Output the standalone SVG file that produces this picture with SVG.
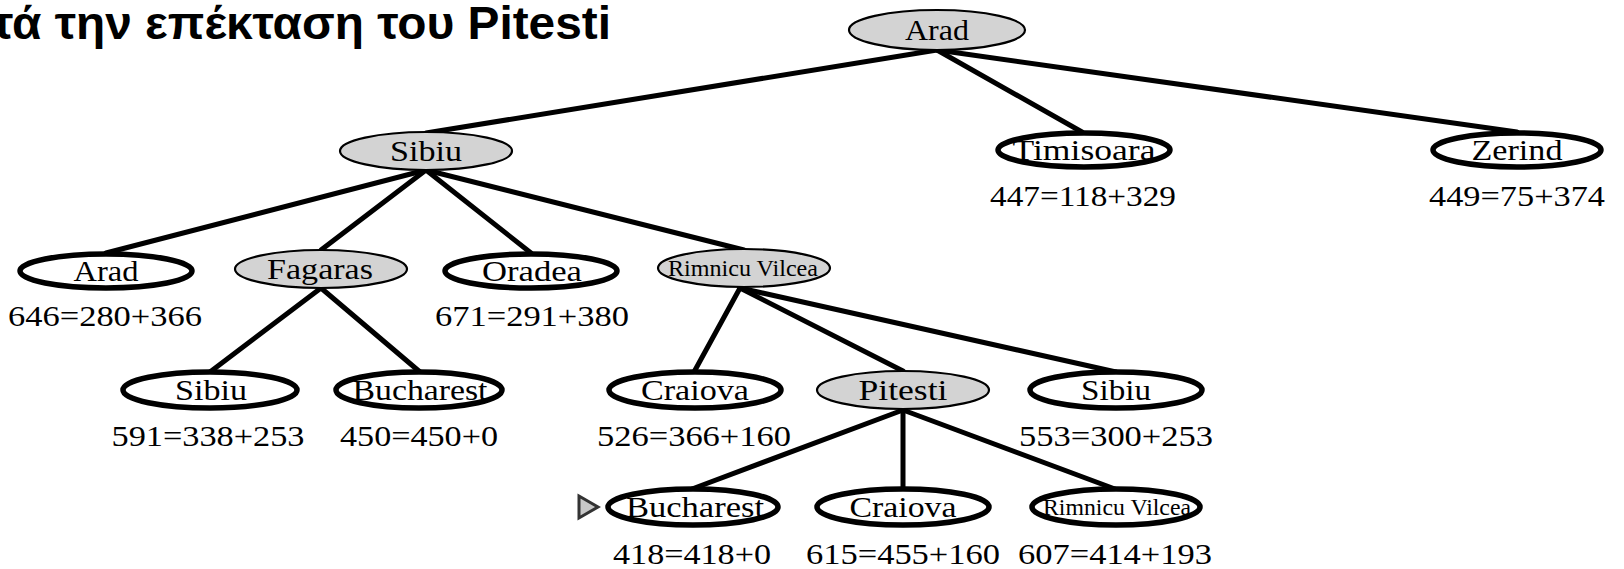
<svg xmlns="http://www.w3.org/2000/svg" width="1624" height="569" viewBox="0 0 1624 569">
<style>
.bg{fill:#ffffff}
.title{font-family:"Liberation Sans",Arial,sans-serif;font-weight:bold;font-size:47px;fill:#000}
.open{fill:#ffffff;stroke:#000;stroke-width:5.5}
.closed{fill:#d3d3d3;stroke:#000;stroke-width:2.2}
.nt{font-family:"Liberation Serif","Times New Roman",serif;font-size:30px;fill:#000;text-anchor:middle}
.small{font-size:23px}
.lb{font-family:"Liberation Serif","Times New Roman",serif;font-size:30px;fill:#000;text-anchor:middle}
.edge{stroke:#000;stroke-width:5;fill:none;stroke-linecap:round}
.mark{fill:#c8c8c8;stroke:#333;stroke-width:3;stroke-linejoin:miter}
</style>
<rect class="bg" x="0" y="0" width="1624" height="569"/>
<text class="title" x="611" y="39" text-anchor="end" textLength="619" lengthAdjust="spacingAndGlyphs">τά την επέκταση του Pitesti</text>
<g id="connectors">
<line class="edge" x1="937" y1="50" x2="426" y2="133"/>
<line class="edge" x1="937" y1="50" x2="1082" y2="132"/>
<line class="edge" x1="937" y1="50" x2="1517" y2="132"/>
<line class="edge" x1="426" y1="170" x2="106" y2="253"/>
<line class="edge" x1="426" y1="170" x2="321" y2="250"/>
<line class="edge" x1="426" y1="170" x2="531" y2="253"/>
<line class="edge" x1="426" y1="170" x2="744" y2="250"/>
<line class="edge" x1="321" y1="288" x2="210" y2="372"/>
<line class="edge" x1="321" y1="288" x2="420" y2="372"/>
<line class="edge" x1="740" y1="288" x2="694" y2="372"/>
<line class="edge" x1="740" y1="288" x2="903" y2="371"/>
<line class="edge" x1="740" y1="288" x2="1116" y2="372"/>
<line class="edge" x1="903" y1="410" x2="692" y2="489"/>
<line class="edge" x1="903" y1="410" x2="903" y2="489"/>
<line class="edge" x1="903" y1="410" x2="1115" y2="489"/>
</g>
<g id="n-arad-root"><ellipse class="closed" cx="937" cy="30" rx="88" ry="20"/><text class="nt" x="937" y="40" textLength="64" lengthAdjust="spacingAndGlyphs">Arad</text></g>
<g id="n-sibiu"><ellipse class="closed" cx="426" cy="151" rx="86" ry="19"/><text class="nt" x="426" y="161" textLength="72" lengthAdjust="spacingAndGlyphs">Sibiu</text></g>
<g id="n-timisoara"><ellipse class="open" cx="1084" cy="150" rx="86" ry="17"/><text class="nt" x="1084" y="160" textLength="143" lengthAdjust="spacingAndGlyphs">Timisoara</text><text class="lb" x="1083" y="206" textLength="186" lengthAdjust="spacingAndGlyphs">447=118+329</text></g>
<g id="n-zerind"><ellipse class="open" cx="1517" cy="150" rx="84" ry="17"/><text class="nt" x="1517" y="160" textLength="91" lengthAdjust="spacingAndGlyphs">Zerind</text><text class="lb" x="1517" y="206" textLength="176" lengthAdjust="spacingAndGlyphs">449=75+374</text></g>
<g id="n-arad-2"><ellipse class="open" cx="106" cy="271" rx="86" ry="17"/><text class="nt" x="106" y="281" textLength="65" lengthAdjust="spacingAndGlyphs">Arad</text><text class="lb" x="105" y="326" textLength="194" lengthAdjust="spacingAndGlyphs">646=280+366</text></g>
<g id="n-fagaras"><ellipse class="closed" cx="321" cy="269" rx="86" ry="19"/><text class="nt" x="320" y="279" textLength="106" lengthAdjust="spacingAndGlyphs">Fagaras</text></g>
<g id="n-oradea"><ellipse class="open" cx="531" cy="271" rx="86" ry="17"/><text class="nt" x="532" y="281" textLength="100" lengthAdjust="spacingAndGlyphs">Oradea</text><text class="lb" x="532" y="326" textLength="194" lengthAdjust="spacingAndGlyphs">671=291+380</text></g>
<g id="n-rimnicu"><ellipse class="closed" cx="744" cy="268" rx="86" ry="19"/><text class="nt small" x="743" y="276" textLength="150" lengthAdjust="spacingAndGlyphs">Rimnicu Vilcea</text></g>
<g id="n-sibiu-3"><ellipse class="open" cx="210" cy="390" rx="87" ry="18"/><text class="nt" x="211" y="400" textLength="72" lengthAdjust="spacingAndGlyphs">Sibiu</text><text class="lb" x="208" y="446" textLength="193" lengthAdjust="spacingAndGlyphs">591=338+253</text></g>
<g id="n-bucharest-3"><ellipse class="open" cx="419" cy="390" rx="83" ry="18"/><text class="nt" x="420" y="400" textLength="135" lengthAdjust="spacingAndGlyphs">Bucharest</text><text class="lb" x="419" y="446" textLength="158" lengthAdjust="spacingAndGlyphs">450=450+0</text></g>
<g id="n-craiova-3"><ellipse class="open" cx="695" cy="390" rx="86" ry="18"/><text class="nt" x="695" y="400" textLength="108" lengthAdjust="spacingAndGlyphs">Craiova</text><text class="lb" x="694" y="446" textLength="194" lengthAdjust="spacingAndGlyphs">526=366+160</text></g>
<g id="n-pitesti"><ellipse class="closed" cx="903" cy="390" rx="86" ry="19"/><text class="nt" x="903" y="400" textLength="89" lengthAdjust="spacingAndGlyphs">Pitesti</text></g>
<g id="n-sibiu-3b"><ellipse class="open" cx="1116" cy="390" rx="86" ry="18"/><text class="nt" x="1116" y="400" textLength="70" lengthAdjust="spacingAndGlyphs">Sibiu</text><text class="lb" x="1116" y="446" textLength="194" lengthAdjust="spacingAndGlyphs">553=300+253</text></g>
<g id="n-bucharest-4"><polygon class="mark" points="579,496 598,507 579,518"/><ellipse class="open" cx="693" cy="507" rx="85" ry="18"/><text class="nt" x="695" y="517" textLength="138" lengthAdjust="spacingAndGlyphs">Bucharest</text><text class="lb" x="692" y="564" textLength="158" lengthAdjust="spacingAndGlyphs">418=418+0</text></g>
<g id="n-craiova-4"><ellipse class="open" cx="903" cy="507" rx="86" ry="18"/><text class="nt" x="903" y="517" textLength="107" lengthAdjust="spacingAndGlyphs">Craiova</text><text class="lb" x="903" y="564" textLength="194" lengthAdjust="spacingAndGlyphs">615=455+160</text></g>
<g id="n-rimnicu-4"><ellipse class="open" cx="1116" cy="507" rx="84" ry="18"/><text class="nt small" x="1117" y="515" textLength="148" lengthAdjust="spacingAndGlyphs">Rimnicu Vilcea</text><text class="lb" x="1115" y="564" textLength="194" lengthAdjust="spacingAndGlyphs">607=414+193</text></g>
</svg>
